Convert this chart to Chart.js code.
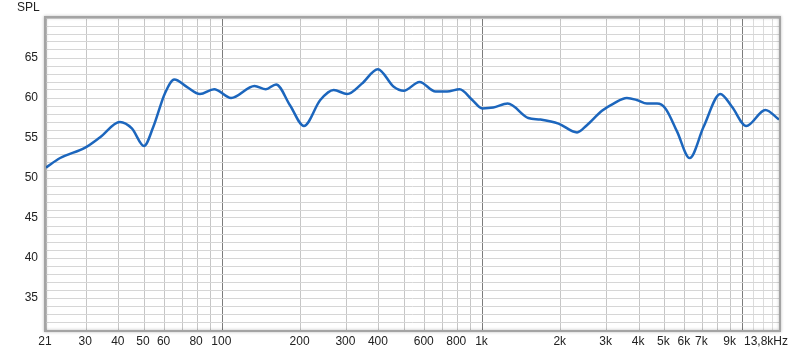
<!DOCTYPE html>
<html lang="en">
<head>
    <meta charset="UTF-8">
    <title>SPL frequency response</title>
    <script src="https://cdn.jsdelivr.net/npm/chart.js"></script>
    <style>
        body {
            margin: 0;
            background: #ffffff;
        }
        #wrap {
            width: 800px;
            height: 354px;
        }
    </style>
</head>
<body>

<div id="wrap">
    <canvas id="splChart" width="800" height="354"></canvas>
</div>

<script>
    // measured response (Hz / dB)
    const freqs = [21, 23.8, 29.7, 33.9, 40.4, 44.9, 50, 54.3, 60.2, 65.4, 73, 82, 93, 108, 133, 147, 161,
        182, 206, 238, 268, 302, 344, 396, 456, 498, 573, 660, 731, 817, 914, 998, 1100, 1250, 1500, 1670,
        1960, 2310, 2520, 2880, 3190, 3590, 3920, 4290, 4690, 5050, 5600, 6260, 7080, 8210, 9100, 10330,
        12230, 13800];
    const spl = [51.3, 52.5, 53.8, 55.1, 57.0, 56.2, 54.0, 56.4, 60.6, 62.3, 61.4, 60.5, 61.1, 60.0, 61.5, 61.1, 61.7,
        59.1, 56.5, 59.75, 61.0, 60.5, 61.8, 63.6, 61.4, 60.9, 62.0, 60.8, 60.8, 61.1, 59.75, 58.7, 58.8, 59.3, 57.5, 57.3,
        56.8, 55.7, 56.6, 58.4, 59.3, 60.0, 59.75, 59.3, 59.3, 58.7, 55.8, 52.5, 56.4, 60.5, 58.9, 56.5,
        58.5, 57.3];

    // axis grid + labels
    const xGrid = [21, 30, 40, 50, 60, 70, 80, 90, 100, 200, 300, 400, 500, 600, 700, 800, 900, 1000,
        2000, 3000, 4000, 5000, 6000, 7000, 8000, 9000, 10000, 11000, 12000, 13000, 13800];
    const xLabelValues = [21, 30, 40, 50, 60, 80, 100, 200, 300, 400, 600, 800, 1000,
        2000, 3000, 4000, 5000, 6000, 7000, 9000, 13800];
    const xLabelTexts = ['21', '30', '40', '50', '60', '80', '100', '200', '300', '400', '600', '800', '1k',
        '2k', '3k', '4k', '5k', '6k', '7k', '9k', '13,8kHz'];
    const yMin = 31, yMax = 70;
    const yLabels = [35, 40, 45, 50, 55, 60, 65];

    const font = '12px "Liberation Sans", Arial, sans-serif';

    const frame = {
        id: 'frame',
        afterDraw(chart) {
            const { ctx, chartArea: a } = chart;
            ctx.save();
            // plot border with soft shadow
            ctx.shadowColor = 'rgba(0,0,0,0.3)';
            ctx.shadowBlur = 3;
            ctx.strokeStyle = '#a4a4a4';
            ctx.lineWidth = 2;
            ctx.strokeRect(a.left - 1, a.top - 1, a.right - a.left + 2, a.bottom - a.top + 2);
            ctx.restore();

            ctx.save();
            ctx.font = font;
            ctx.fillStyle = '#222';
            ctx.textBaseline = 'middle';
            ctx.textAlign = 'left';
            ctx.fillText('SPL', 17, 8);

            const xs = chart.scales.x;
            xLabelValues.forEach((v, i) => {
                const px = xs.getPixelForValue(v);
                if (i === xLabelValues.length - 1) {
                    ctx.textAlign = 'right';
                    ctx.fillText(xLabelTexts[i], px + 9, a.bottom + 12);
                } else {
                    ctx.textAlign = 'center';
                    ctx.fillText(xLabelTexts[i], px - 1, a.bottom + 12);
                }
            });
            ctx.restore();
        }
    };

    const yGrid = [];
    for (let v = yMin; v <= yMax; v++) yGrid.push(v);

    const ctx = document.getElementById('splChart').getContext('2d');
    const chart = new Chart(ctx, {
        type: 'line',
        data: {
            datasets: [{
                data: freqs.map((f, i) => ({ x: f, y: spl[i] })),
                borderColor: '#1c66bd',
                borderWidth: 2.5,
                pointRadius: 0,
                fill: false,
                cubicInterpolationMode: 'monotone'
            }]
        },
        options: {
            responsive: false,
            animation: false,
            layout: { padding: { left: 0, right: 21, top: 18, bottom: 0 } },
            plugins: {
                legend: { display: false },
                tooltip: { enabled: false }
            },
            scales: {
                x: {
                    type: 'logarithmic',
                    min: 21,
                    max: 13800,
                    afterBuildTicks: (scale) => {
                        scale.ticks = xGrid.map(v => ({ value: v }));
                    },
                    afterFit: (scale) => { scale.height = 24; },
                    ticks: { display: false, autoSkip: false },
                    border: { display: false },
                    grid: {
                        drawTicks: false,
                        color: (c) => {
                            const v = c.tick ? c.tick.value : 0;
                            if (v === 100 || v === 1000 || v === 10000) return '#7c7c7c';
                            if (v > 10000) return '#dcdcdc';
                            return '#c6c6c6';
                        }
                    }
                },
                y: {
                    min: yMin,
                    max: yMax,
                    afterBuildTicks: (scale) => {
                        scale.ticks = yGrid.map(v => ({ value: v }));
                    },
                    afterFit: (scale) => { scale.width = 46; },
                    ticks: {
                        autoSkip: false,
                        padding: 8,
                        color: '#222',
                        font: { family: '"Liberation Sans", Arial, sans-serif', size: 12 },
                        callback: (v) => yLabels.includes(v) ? String(v) : ''
                    },
                    border: { display: false },
                    grid: {
                        drawTicks: false,
                        color: '#d6d6d6'
                    }
                }
            }
        },
        plugins: [frame]
    });
</script>

</body>
</html>
